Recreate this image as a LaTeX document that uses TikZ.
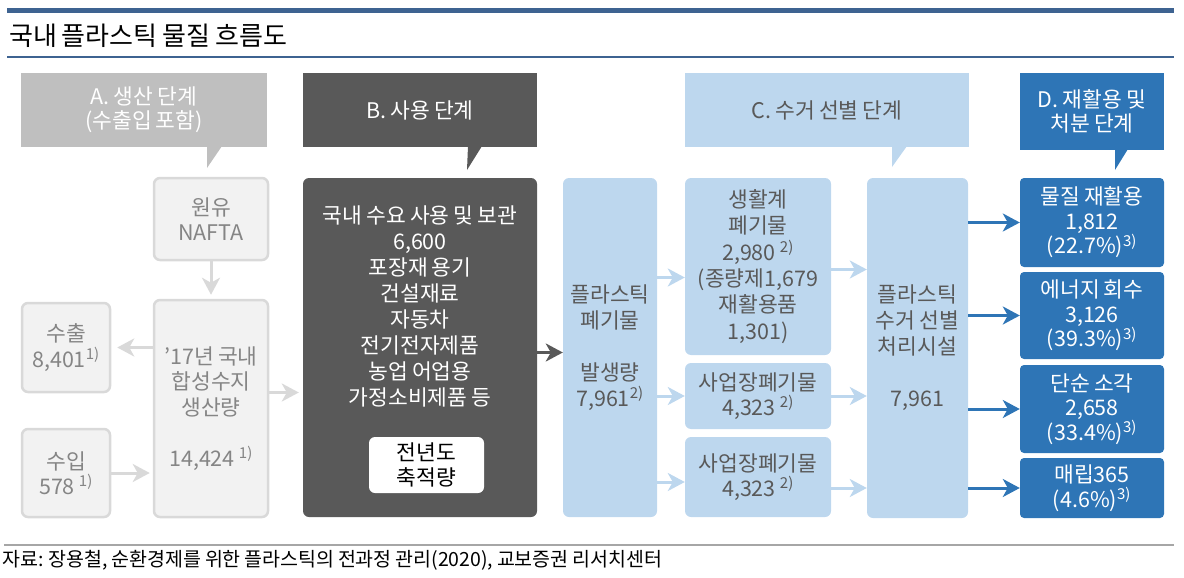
\documentclass[tikz,border=0pt]{standalone}
\usepackage{fontspec}
\setmainfont{Noto Sans CJK KR}[WordSpace=0.85]
\usetikzlibrary{arrows.meta}

\definecolor{titleblue}{HTML}{3E6391}
\definecolor{calgray}{HTML}{BFBFBF}
\definecolor{boxgray}{HTML}{F2F2F2}
\definecolor{linegray}{HTML}{D9D9D9}
\definecolor{textgray}{HTML}{858585}
\definecolor{darkgray}{HTML}{595959}
\definecolor{lightblue}{HTML}{BDD7EE}
\definecolor{midblue}{HTML}{2E75B6}

\begin{document}
\begin{tikzpicture}[x=1pt,y=-1pt,>={Stealth[length=17pt,width=18pt,inset=5pt]},
                    every node/.style={align=center,inner sep=0pt,font=\fontsize{21.5}{25.5}\selectfont},
                    gray node/.style={rounded corners=6pt,draw=linegray,line width=2.5pt,fill=boxgray,text=textgray},
                    dark node/.style={rounded corners=6pt,fill=darkgray,text=white},
                    light node/.style={rounded corners=6pt,fill=lightblue,text=darkgray},
                    blue node/.style={rounded corners=4pt,fill=midblue,text=white,font=\fontsize{21.5}{24.5}\selectfont},
                    call node/.style={minimum height=74pt,font=\fontsize{21.5}{24}\selectfont},
                    garrow/.style={->,draw=linegray,line width=3pt},
                    darrow/.style={->,draw=darkgray,line width=3pt},
                    larrow/.style={->,draw=lightblue,line width=3pt},
                    barrow/.style={->,draw=midblue,line width=3pt}]

  \useasboundingbox (0,0) rectangle (1184,578);

  % title and rules
  \draw[titleblue,line width=4.5pt] (7,10.5) -- (1174,10.5);
  \node[anchor=west,font=\fontsize{26}{30}\selectfont] (title) at (9,36) {국내 플라스틱 물질 흐름도};
  \draw[titleblue,line width=2pt] (7,57) -- (1174,57);

  % stage callouts
  \node[call node,fill=calgray,text=white,minimum width=246pt] (calA) at (144,110) {A. 생산 단계\\(수출입 포함)};
  \fill[calgray] (207,146) -- (222,146) -- (207,168) -- cycle;
  \node[call node,fill=darkgray,text=white,minimum width=234pt] (calB) at (420,110) {B. 사용 단계};
  \fill[darkgray] (468,146) -- (482,146) -- (467,170) -- cycle;
  \node[call node,fill=lightblue,text=darkgray,minimum width=284pt] (calC) at (827,110) {C. 수거 선별 단계};
  \fill[lightblue] (892,146) -- (907,146) -- (892,167) -- cycle;
  \node[call node,fill=midblue,text=white,minimum width=144pt,minimum height=77pt] (calD) at (1092,111.5) {D. 재활용 및\\처분 단계};
  \fill[midblue] (1115,149) -- (1128,149) -- (1115,170) -- cycle;

  % A
  \node[gray node,minimum width=114pt,minimum height=82pt] (oil) at (211,219) {원유\\NAFTA};
  \node[gray node,minimum width=114pt,minimum height=217pt] (prod) at (211,408.5) {'17년 국내\\합성수지\\생산량\\[25.5pt]14,424 \textsuperscript{1)}};
  \node[gray node,minimum width=88pt,minimum height=89pt] (exp) at (66,347.5) {수출\\8,401\textsuperscript{1)}};
  \node[gray node,minimum width=88pt,minimum height=88pt] (imp) at (66,473) {수입\\578 \textsuperscript{1)}};

  % B
  \node[dark node,minimum width=234pt,minimum height=339pt] (use) at (420,347.5) {};
  \node[text=white,font=\fontsize{21.5}{26}\selectfont] (usetxt) at (420,306.5) {국내 수요 사용 및 보관\\6,600\\포장재 용기\\건설재료\\자동차\\전기전자제품\\농업 어업용\\가정소비제품 등};
  \node[rounded corners=6pt,fill=white,minimum width=115pt,minimum height=56pt,font=\fontsize{21.5}{25}\selectfont] (stock) at (426.5,465) {전년도\\축적량};

  % C
  \node[light node,minimum width=94pt,minimum height=339pt,font=\fontsize{21.5}{26}\selectfont] (waste) at (610,347.5) {플라스틱\\폐기물\\[26pt]발생량\\7,961\textsuperscript{2)}};
  \node[light node,minimum width=146pt,minimum height=177pt,font=\fontsize{21.5}{26.4}\selectfont] (house) at (758,266.5) {생활계\\폐기물\\2,980 \textsuperscript{2)}\\(종량제1,679\\재활용품\\1,301)};
  \node[light node,minimum width=146pt,minimum height=66pt,font=\fontsize{21.5}{25}\selectfont] (biz1) at (758,396) {사업장폐기물\\4,323 \textsuperscript{2)}};
  \node[light node,minimum width=146pt,minimum height=80pt,font=\fontsize{21.5}{25}\selectfont] (biz2) at (758,477) {사업장폐기물\\4,323 \textsuperscript{2)}};
  \node[light node,minimum width=101pt,minimum height=340pt,font=\fontsize{21.5}{26}\selectfont] (sort) at (917.5,348) {플라스틱\\수거 선별\\처리시설\\[26pt]7,961};

  % D
  \node[blue node,minimum width=144pt,minimum height=89pt] (rec) at (1092,222.5) {물질 재활용\\1,812\\(22.7\%)\textsuperscript{3)}};
  \node[blue node,minimum width=144pt,minimum height=87pt] (energy) at (1092,315.5) {에너지 회수\\3,126\\(39.3\%)\textsuperscript{3)}};
  \node[blue node,minimum width=144pt,minimum height=88pt] (burn) at (1092,409) {단순 소각\\2,658\\(33.4\%)\textsuperscript{3)}};
  \node[blue node,minimum width=144pt,minimum height=60pt] (land) at (1092,488) {매립365\\(4.6\%)\textsuperscript{3)}};

  % flows
  \draw[garrow,shorten >=4pt] (oil) -- (prod);
  \draw[garrow,shorten >=6pt] (prod.west |- exp) -- (exp);
  \draw[garrow,shorten >=3pt] (imp) -- (imp -| prod.west);
  \draw[garrow,shorten >=4pt] ([yshift=16pt]prod.east) -- ([yshift=16pt]prod.east -| use.west);
  \draw[darrow] ([yshift=-5pt]use.east) -- ([yshift=-5pt]use.east -| waste.west);

  \draw[larrow] ([yshift=-11pt]house.west -| waste.east) -- ([yshift=-11pt]house.west);
  \draw[larrow] (waste.east |- biz1) -- (biz1);
  \draw[larrow] ([yshift=-5pt]biz2.west -| waste.east) -- ([yshift=-5pt]biz2.west);
  \draw[larrow] ([yshift=-3pt]house.east) -- ([yshift=-3pt]house.east -| sort.west);
  \draw[larrow] (biz1) -- (biz1 -| sort.west);
  \draw[larrow] ([yshift=-11pt]biz2.east) -- ([yshift=-11pt]biz2.east -| sort.west);

  \draw[barrow] (sort.east |- rec) -- (rec);
  \draw[barrow] (sort.east |- energy) -- (energy);
  \draw[barrow] (sort.east |- burn) -- (burn);
  \draw[barrow] (sort.east |- land) -- (land);

  % source
  \draw[gray!70,line width=1.5pt] (4,545) -- (1174,545);
  \node[anchor=west,font=\fontsize{19.5}{22}\selectfont] (src) at (2,560) {자료: 장용철, 순환경제를 위한 플라스틱의 전과정 관리(2020), 교보증권 리서치센터};
\end{tikzpicture}
\end{document}
